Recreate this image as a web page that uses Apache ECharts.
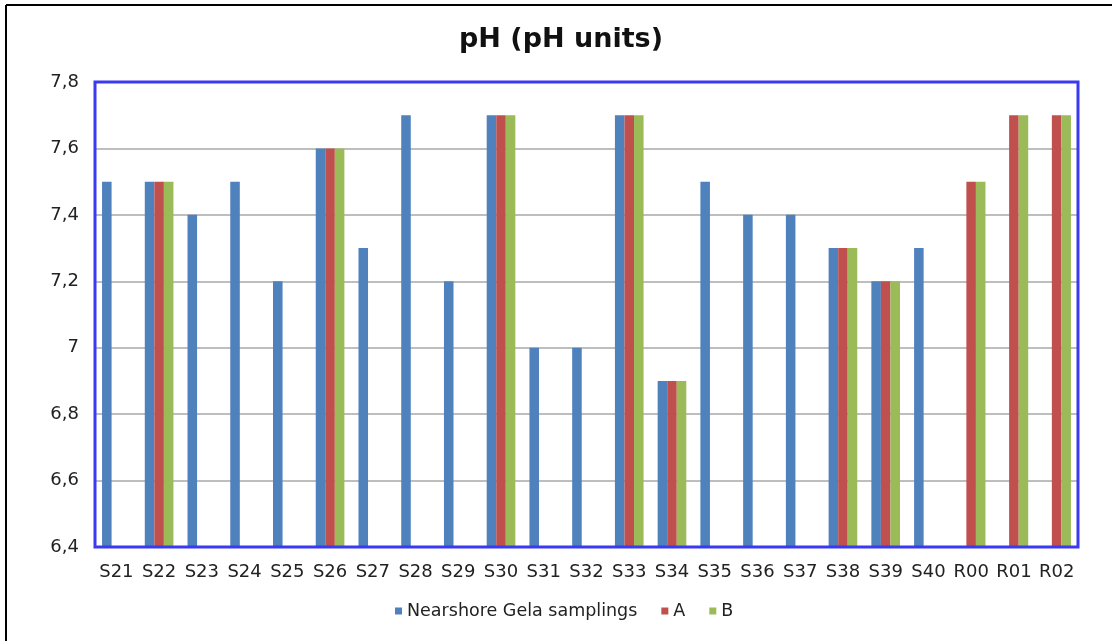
<!DOCTYPE html>
<html>
<head>
<meta charset="utf-8">
<script src="https://cdn.jsdelivr.net/npm/echarts@6/dist/echarts.min.js"></script>
<style>html,body{margin:0;padding:0;background:#fff}#c{width:1112px;height:641px}</style>
</head>
<body>
<div id="c"></div>
<script>
const categories = ['S21','S22','S23','S24','S25','S26','S27','S28','S29','S30','S31','S32','S33','S34','S35','S36','S37','S38','S39','S40','R00','R01','R02'];
const nearshore = [7.5,7.5,7.4,7.5,7.2,7.6,7.3,7.7,7.2,7.7,7.0,7.0,7.7,6.9,7.5,7.4,7.4,7.3,7.2,7.3,null,null,null];
const seriesA   = [null,7.5,null,null,null,7.6,null,null,null,7.7,null,null,7.7,6.9,null,null,null,7.3,7.2,null,7.5,7.7,7.7];
const seriesB   = [null,7.5,null,null,null,7.6,null,null,null,7.7,null,null,7.7,6.9,null,null,null,7.3,7.2,null,7.5,7.7,7.7];
const seriesNames = ['Nearshore Gela samplings','A','B'];

const chart = echarts.init(document.getElementById('c'));
const font = 'DejaVu Sans, Verdana, sans-serif';
chart.setOption({
  animation: false,
  backgroundColor: '#fff',
  color: ['#4f81bd','#c0504d','#9bbb59'],
  title: {
    text: 'pH (pH units)',
    left: 556, top: 21, textAlign: 'center',
    textStyle: {fontFamily: font, fontSize: 27, fontWeight: 'bold', color: '#111'}
  },
  legend: {
    bottom: 16, left: 390,
    icon: 'rect', itemWidth: 7, itemHeight: 7, itemGap: 24,
    textStyle: {fontFamily: font, fontSize: 17.5, color: '#222'},
    data: seriesNames
  },
  grid: {
    left: 95, right: 34, top: 82, bottom: 94,
    show: false
  },
  xAxis: {
    type: 'category', data: categories,
    axisLine: {show: false}, axisTick: {show: false},
    axisLabel: {fontFamily: font, fontSize: 18, color: '#222', margin: 16, interval: 0}
  },
  yAxis: {
    type: 'value', min: 6.4, max: 7.8, interval: 0.2,
    axisLine: {show: false}, axisTick: {show: false},
    splitLine: {showMinLine: false, showMaxLine: false, lineStyle: {color: '#a8a8a8', width: 1.5}},
    axisLabel: {fontFamily: font, fontSize: 18, color: '#222', margin: 16,
      formatter: v => String(+v.toFixed(1)).replace('.', ',')}
  },
  series: [
    {name: seriesNames[0], type: 'bar', data: nearshore, barGap: '0%', barCategoryGap: '33%'},
    {name: seriesNames[1], type: 'bar', data: seriesA, barGap: '0%', barCategoryGap: '33%'},
    {name: seriesNames[2], type: 'bar', data: seriesB, barGap: '0%', barCategoryGap: '33%'}
  ],
  graphic: [
    {type: 'rect', z: 100, shape: {x: 95, y: 82, width: 983, height: 465},
      style: {fill: 'none', stroke: '#3a3af2', lineWidth: 3}},
    {type: 'line', shape: {x1: 6, y1: 5, x2: 1112, y2: 5}, style: {stroke: '#000', lineWidth: 2}},
    {type: 'line', shape: {x1: 6, y1: 5, x2: 6, y2: 641}, style: {stroke: '#000', lineWidth: 2}}
  ]
});
</script>
</body>
</html>
